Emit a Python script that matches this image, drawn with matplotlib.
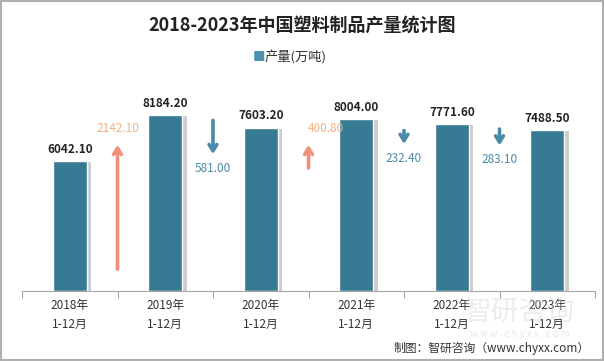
import matplotlib
matplotlib.use("Agg")
import matplotlib.pyplot as plt
import matplotlib.patheffects as pe

plt.rcParams['font.family'] = ['Noto Sans CJK SC', 'DejaVu Sans']

years = ["2018年\n1-12月", "2019年\n1-12月", "2020年\n1-12月",
         "2021年\n1-12月", "2022年\n1-12月", "2023年\n1-12月"]
output = [6042.10, 8184.20, 7603.20, 8004.00, 7771.60, 7488.50]  # 产量(万吨)
change = [2142.10, -581.00, 400.80, -232.40, -283.10]  # year-on-year change

bar_color = "#367b93"
up_color = "#f0907a"
up_text = "#f4b183"
down_color = "#4a8aa8"

fig = plt.figure(figsize=(6.04, 3.61), dpi=100)
ax = fig.add_axes([22 / 604, 70 / 361, 573 / 604, 215 / 361])

x = list(range(len(output)))
bars = ax.bar(x, output, width=0.36, color=bar_color, edgecolor="white", linewidth=1,
              zorder=3)
for b in bars:
    b.set_path_effects([pe.SimplePatchShadow(offset=(3, -1), shadow_rgbFace="#b8b8b8", alpha=0.7),
                        pe.Normal()])

for xi, v in zip(x, output):
    ax.text(xi, v + 250, f"{v:.2f}", ha="center", va="bottom", fontsize=8.5,
            fontweight="bold", color="#222222", zorder=5)

# change arrows between bars, length scaled from the change
astyle = "->,head_width=0.28,head_length=0.45"
for i, d in enumerate(change):
    xm = i + 0.5
    length = abs(d) * 2.7
    if d > 0:
        tip = 6800
        ax.annotate("", xy=(xm, tip), xytext=(xm, tip - length),
                    arrowprops=dict(arrowstyle=astyle, color=up_color, lw=2.6,
                                    shrinkA=0, shrinkB=0))
        dx = 0.18 if abs(d) < 1000 else 0
        ax.text(xm + dx, tip + 450, f"{abs(d):.2f}", ha="center", va="bottom",
                fontsize=8.5, color=up_text)
    else:
        mid = 7150
        ax.annotate("", xy=(xm, mid - length / 2), xytext=(xm, mid + length / 2),
                    arrowprops=dict(arrowstyle=astyle, color=down_color, lw=2.6,
                                    shrinkA=0, shrinkB=0))
        ax.text(xm, mid - length / 2 - 350, f"{abs(d):.2f}", ha="center", va="top",
                fontsize=8.5, color=down_color)

ax.set_xlim(-0.5, len(output) - 0.5)
ax.set_ylim(0, 10000)
ax.set_yticks([])
for s in ["top", "right", "left"]:
    ax.spines[s].set_visible(False)
ax.spines["bottom"].set_color("#a6a6a6")
ax.set_xticks([i + 0.5 for i in range(-1, len(output))], minor=False)
ax.set_xticklabels([""] * (len(output) + 1))
ax.tick_params(axis="x", which="major", length=5, color="#a6a6a6")
ax.set_xticks(x, minor=True)
ax.set_xticklabels(years, minor=True, fontsize=8.5, color="#333333", linespacing=1.6)
ax.tick_params(axis="x", which="minor", length=0, pad=6)

fig.text(0.5, 0.928, "2018-2023年中国塑料制品产量统计图", ha="center", va="center",
         fontsize=13, fontweight="bold", color="#222222")
fig.text(0.428, 0.842, "■", ha="center", va="center", fontsize=9, color="#4a93ac")
fig.text(0.438, 0.842, "产量(万吨)", ha="left", va="center", fontsize=9.5, color="#333333")

# watermark
fig.text(0.86, 0.135, "智研咨询", ha="center", va="center", fontsize=20,
         color="#d0d0d0", alpha=0.4, zorder=0)
fig.text(0.86, 0.075, "w w w . c h y x x . c o m", ha="center", va="center", fontsize=7,
         color="#d0d0d0", alpha=0.5)

fig.text(0.977, 0.035, "制图：智研咨询（www.chyxx.com）", ha="right", va="center",
         fontsize=8.5, color="#333333")

fig.patches.append(plt.Rectangle((0.001, 0.002), 0.997, 0.995, transform=fig.transFigure,
                                 fill=False, edgecolor="#b0b0b0", linewidth=1.5))

fig.savefig("out.png", dpi=100)
